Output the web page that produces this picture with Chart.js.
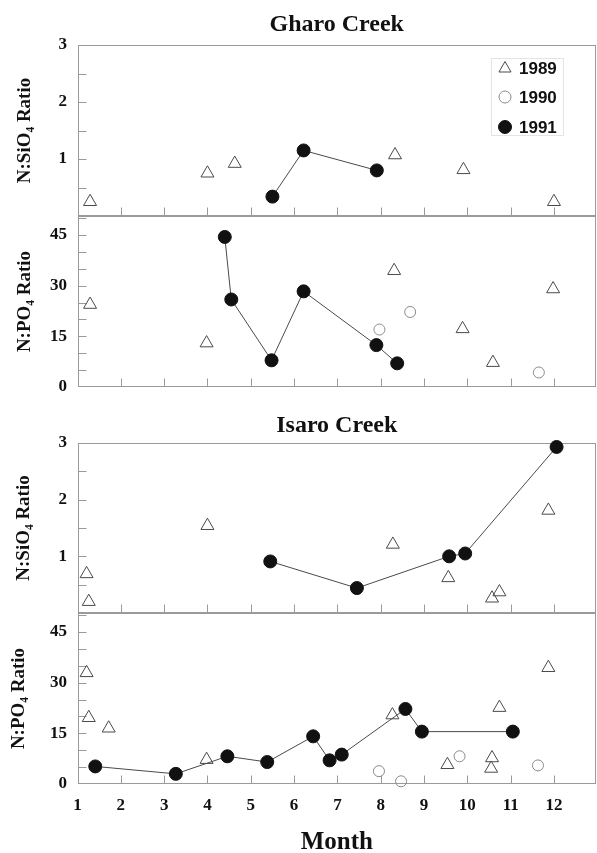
<!DOCTYPE html>
<html lang="en">
<head>
<meta charset="UTF-8">
<meta name="viewport" content="width=device-width, initial-scale=1.0">
<title>Gharo Creek / Isaro Creek - N:SiO4 and N:PO4 ratios</title>
<script src="https://cdn.jsdelivr.net/npm/chart.js@4"></script>
<style>
    body {
        margin: 0;
        background: #fff;
        width: 597px;
        height: 853px;
        overflow: hidden;
        position: relative;
    }
    .panel {
        position: absolute;
        left: 0;
        width: 597px;
    }
</style>
</head>
<body>
<!-- the panels overlap a little: the extra room is the layout padding round each plot -->
<div class="panel" style="top:0px;height:240px"><canvas id="gharoSi"></canvas></div>
<div class="panel" style="top:192px;height:219px"><canvas id="gharoPo"></canvas></div>
<div class="panel" style="top:400px;height:237px"><canvas id="isaroSi"></canvas></div>
<div class="panel" style="top:589px;height:272px"><canvas id="isaroPo"></canvas></div>

<script>
// tick labels
const monthTicks = [1, 2, 3, 4, 5, 6, 7, 8, 9, 10, 11, 12];
const siTicks = [1, 2, 3];
const poTicks = [0, 15, 30, 45];
const siMinor = [0.5, 1, 1.5, 2, 2.5];
const poMinor = [5, 10, 15, 20, 25, 30, 35, 40, 45, 50];
const yearLabels = ['1989', '1990', '1991'];

// Gharo Creek, N:SiO4
const gharoSiMonths89 = [1.29, 4.00, 4.63, 8.33, 9.91, 12.0];
const gharoSiValues89 = [0.25, 0.75, 0.92, 1.07, 0.81, 0.25];
const gharoSiMonths90 = [];
const gharoSiValues90 = [];
const gharoSiMonths91 = [5.50, 6.22, 7.91];
const gharoSiValues91 = [0.34, 1.15, 0.80];

// Gharo Creek, N:PO4
const gharoPoMonths89 = [1.29, 3.98, 8.31, 9.89, 10.59, 11.98];
const gharoPoValues89 = [24.4, 13.0, 34.4, 17.2, 7.2, 29.0];
const gharoPoMonths90 = [7.97, 8.68, 11.65];
const gharoPoValues90 = [17.0, 22.2, 4.3];
const gharoPoMonths91 = [4.40, 4.55, 5.48, 6.22, 7.90, 8.38];
const gharoPoValues91 = [44.4, 25.9, 7.9, 28.3, 12.4, 7.0];

// Isaro Creek, N:SiO4
const isaroSiMonths89 = [1.21, 1.26, 4.00, 8.28, 9.56, 10.57, 10.74, 11.87];
const isaroSiValues89 = [0.69, 0.20, 1.54, 1.21, 0.62, 0.26, 0.37, 1.81];
const isaroSiMonths90 = [];
const isaroSiValues90 = [];
const isaroSiMonths91 = [5.45, 7.45, 9.58, 9.95, 12.06];
const isaroSiValues91 = [0.91, 0.44, 1.00, 1.05, 2.93];

// Isaro Creek, N:PO4
const isaroPoMonths89 = [1.21, 1.26, 1.72, 3.98, 8.27, 9.54, 10.57, 10.55, 10.74, 11.87];
const isaroPoValues89 = [32.9, 19.6, 16.5, 7.2, 20.4, 5.7, 7.7, 4.6, 22.6, 34.4];
const isaroPoMonths90 = [7.96, 8.47, 9.82, 11.63];
const isaroPoValues90 = [3.8, 0.8, 8.2, 5.5];
const isaroPoMonths91 = [1.41, 3.27, 4.46, 5.38, 6.44, 6.82, 7.10, 8.57, 8.95, 11.05];
const isaroPoValues91 = [5.2, 3.0, 8.2, 6.5, 14.1, 7.0, 8.7, 22.2, 15.5, 15.5];

const serif = '"Liberation Serif", "Times New Roman", serif';
const sans = '"Liberation Sans", Arial, sans-serif';
const ink = '#111';
const frameColor = '#9a9a9a';

function pts(xs, ys) {
    return xs.map((x, i) => ({ x: x, y: ys[i] }));
}

function series(m89, v89, m90, v90, m91, v91) {
    return [
        {
            label: yearLabels[0], data: pts(m89, v89), showLine: false, clip: false,
            pointStyle: 'triangle', pointRadius: 7.5, pointBorderWidth: 1,
            pointBorderColor: '#4a4a4a', pointBackgroundColor: 'rgba(255,255,255,0)'
        },
        {
            label: yearLabels[1], data: pts(m90, v90), showLine: false, clip: false,
            pointStyle: 'circle', pointRadius: 5.5, pointBorderWidth: 1,
            pointBorderColor: '#8a8a8a', pointBackgroundColor: 'rgba(255,255,255,0)'
        },
        {
            label: yearLabels[2], data: pts(m91, v91), showLine: true, clip: false,
            borderColor: '#4a4a4a', borderWidth: 1,
            pointStyle: 'circle', pointRadius: 6.5, pointBorderWidth: 1,
            pointBorderColor: ink, pointBackgroundColor: ink
        }
    ];
}

// box round the plot area, inward ticks on the bottom and left edges
const framePlugin = {
    id: 'frame',
    beforeDatasetsDraw(chart, args, opts) {
        const { ctx, chartArea: a, scales } = chart;
        const L = Math.round(a.left) + 0.5;
        const R = Math.round(a.right) - 0.5;
        const T = Math.round(a.top) + 0.5;
        const B = Math.round(a.bottom) - 0.5;
        ctx.save();
        ctx.strokeStyle = frameColor;
        ctx.lineWidth = 1;
        ctx.strokeRect(L, T, R - L, B - T);
        ctx.beginPath();
        monthTicks.forEach(m => {
            const px = Math.round(scales.x.getPixelForValue(m)) + 0.5;
            ctx.moveTo(px, B);
            ctx.lineTo(px, B - 8);
        });
        opts.minor.forEach(v => {
            const py = Math.round(scales.y.getPixelForValue(v)) + 0.5;
            ctx.moveTo(L, py);
            ctx.lineTo(L + 8, py);
        });
        ctx.stroke();
        ctx.restore();
    }
};

// legend drawn inside the top right corner of the first panel
function drawMarker(ctx, ds, r, x, y) {
    ctx.beginPath();
    if (ds.pointStyle === 'triangle') {
        let rad = 0;
        ctx.moveTo(x + Math.sin(rad) * r, y - Math.cos(rad) * r);
        rad += 2 * Math.PI / 3;
        ctx.lineTo(x + Math.sin(rad) * r, y - Math.cos(rad) * r);
        rad += 2 * Math.PI / 3;
        ctx.lineTo(x + Math.sin(rad) * r, y - Math.cos(rad) * r);
        ctx.closePath();
    } else {
        ctx.arc(x, y, r, 0, 2 * Math.PI);
    }
    ctx.fillStyle = ds.pointBackgroundColor;
    ctx.strokeStyle = ds.pointBorderColor;
    ctx.lineWidth = 1;
    ctx.fill();
    ctx.stroke();
}

const legendPlugin = {
    id: 'cornerLegend',
    afterDraw(chart) {
        const { ctx, chartArea: a } = chart;
        const rows = [23.5, 52, 82];
        ctx.save();
        ctx.strokeStyle = '#e4e4e4';
        ctx.lineWidth = 1;
        ctx.strokeRect(Math.round(a.right) - 104.5, Math.round(a.top) + 13.5, 72, 77);
        ctx.font = 'bold 17px ' + sans;
        ctx.textBaseline = 'middle';
        ctx.textAlign = 'left';
        chart.data.datasets.forEach((ds, i) => {
            const y = a.top + rows[i];
            drawMarker(ctx, ds, i === 0 ? 7 : (i === 1 ? 6 : 6.5), a.right - 91, y);
            ctx.fillStyle = ink;
            ctx.fillText(ds.label, a.right - 77, y + 1);
        });
        ctx.restore();
    }
};

function makePanel(id, cfg) {
    const plugins = [framePlugin];
    if (cfg.legend) plugins.push(legendPlugin);
    return new Chart(document.getElementById(id), {
        type: 'scatter',
        data: { datasets: cfg.datasets },
        plugins: plugins,
        options: {
            responsive: true,
            maintainAspectRatio: false,
            animation: false,
            events: [],
            layout: {
                autoPadding: false,
                padding: { top: cfg.padTop, right: 1, bottom: cfg.padBottom, left: 0 }
            },
            plugins: {
                legend: { display: false },
                tooltip: { enabled: false },
                frame: { minor: cfg.minor },
                title: {
                    display: !!cfg.title,
                    text: cfg.title || '',
                    fullSize: false,
                    color: ink,
                    font: { family: serif, size: 24, weight: 'bold' },
                    padding: cfg.titlePad || 0
                }
            },
            scales: {
                x: {
                    type: 'linear',
                    min: 1,
                    max: 12.97,
                    display: !!cfg.showX,
                    afterBuildTicks: s => { s.ticks = monthTicks.map(v => ({ value: v })); },
                    afterFit: s => { if (cfg.showX) s.height = 77; },
                    grid: { display: false, drawTicks: false },
                    border: { display: false },
                    ticks: {
                        autoSkip: false,
                        maxRotation: 0,
                        padding: 11,
                        color: ink,
                        font: { family: serif, size: 17, weight: 'bold' }
                    },
                    title: {
                        display: !!cfg.showX,
                        text: 'Month',
                        color: ink,
                        font: { family: serif, size: 25, weight: 'bold' },
                        padding: { top: 0, bottom: 3 }
                    }
                },
                y: {
                    type: 'linear',
                    min: 0,
                    max: cfg.yMax,
                    afterBuildTicks: s => { s.ticks = cfg.yTicks.map(v => ({ value: v })); },
                    afterFit: s => { s.width = 77.5; },
                    grid: { display: false, drawTicks: false },
                    border: { display: false },
                    ticks: {
                        padding: 10.5,
                        color: ink,
                        font: { family: serif, size: 17, weight: 'bold' }
                    },
                    title: {
                        display: true,
                        text: cfg.yTitle,
                        color: ink,
                        font: { family: serif, size: 19, weight: 'bold' },
                        padding: { top: cfg.yTitleInset, bottom: 0 }
                    }
                }
            }
        }
    });
}

makePanel('gharoSi', {
    datasets: series(gharoSiMonths89, gharoSiValues89, gharoSiMonths90, gharoSiValues90, gharoSiMonths91, gharoSiValues91),
    title: 'Gharo Creek', titlePad: { top: 10.5, bottom: 5.7 },
    padTop: 0, padBottom: 24,
    yMax: 3, yTicks: siTicks, minor: siMinor,
    yTitle: 'N:SiO\u2084 Ratio', yTitleInset: 14,
    legend: true
});

makePanel('gharoPo', {
    datasets: series(gharoPoMonths89, gharoPoValues89, gharoPoMonths90, gharoPoValues90, gharoPoMonths91, gharoPoValues91),
    padTop: 24, padBottom: 24,
    yMax: 50.6, yTicks: poTicks, minor: poMinor,
    yTitle: 'N:PO\u2084 Ratio', yTitleInset: 14
});

makePanel('isaroSi', {
    datasets: series(isaroSiMonths89, isaroSiValues89, isaroSiMonths90, isaroSiValues90, isaroSiMonths91, isaroSiValues91),
    title: 'Isaro Creek', titlePad: { top: 11, bottom: 3.2 },
    padTop: 0, padBottom: 24,
    yMax: 3, yTicks: siTicks, minor: siMinor,
    yTitle: 'N:SiO\u2084 Ratio', yTitleInset: 13
});

makePanel('isaroPo', {
    datasets: series(isaroPoMonths89, isaroPoValues89, isaroPoMonths90, isaroPoValues90, isaroPoMonths91, isaroPoValues91),
    padTop: 24, padBottom: 0,
    yMax: 50.6, yTicks: poTicks, minor: poMinor,
    yTitle: 'N:PO\u2084 Ratio', yTitleInset: 8,
    showX: true
});
</script>
</body>
</html>
